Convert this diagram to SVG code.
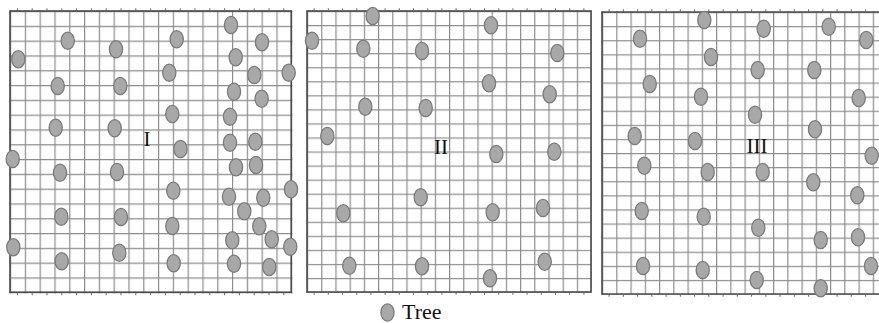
<svg xmlns="http://www.w3.org/2000/svg" xmlns:xlink="http://www.w3.org/1999/xlink" width="879" height="323" viewBox="0 0 879 323">
<style>
.grid{stroke:#8c8c8c;stroke-width:1.2;fill:none}
.border{stroke:#4a4a4a;stroke-width:1.6;fill:none}
.tick{stroke:#666666;stroke-width:2.5;fill:none}
.lbl{font-family:"Liberation Serif","Times New Roman",serif;font-size:21px;fill:#111}
.tree{fill:#a8a8a8;stroke:#7a7a7a;stroke-width:1.3}
</style>
<defs>
<pattern id="g1" patternUnits="userSpaceOnUse" x="10" y="11" width="14.8" height="14.8">
<path class="grid" d="M0.6 0V14.8M0 0.6H14.8"/>
</pattern>
<pattern id="g2" patternUnits="userSpaceOnUse" x="307" y="11" width="14.2" height="14.05">
<path class="grid" d="M0.6 0V14.05M0 0.6H14.2"/>
</pattern>
<pattern id="g3" patternUnits="userSpaceOnUse" x="602" y="12" width="14.25" height="14.1">
<path class="grid" d="M0.6 0V14.1M0 0.6H14.25"/>
</pattern>
<ellipse id="t" class="tree" cx="0" cy="0" rx="6.6" ry="8.6"/>
</defs>
<rect width="879" height="323" fill="#ffffff"/>

<g id="panel-I">
<rect x="9.4" y="10.4" width="283.2" height="283.2" fill="url(#g1)"/>
<rect class="border" x="10" y="11" width="281.2" height="281.2"/>
<line class="tick" x1="10" y1="294" x2="292" y2="294" stroke-dasharray="1 13.8" stroke-dashoffset="-6.9"/>
<line class="tick" x1="10" y1="9.5" x2="292" y2="9.5" stroke-dasharray="1 13.8" stroke-dashoffset="-6.9"/>
<text class="lbl" x="147" y="146" text-anchor="middle">I</text>
<g id="trees-I">
<use href="#t" x="18.3" y="59.3"/><use href="#t" x="67.7" y="40.7"/><use href="#t" x="116" y="49.3"/>
<use href="#t" x="57.7" y="86"/><use href="#t" x="120.3" y="86"/><use href="#t" x="55.7" y="127.7"/>
<use href="#t" x="114.7" y="128.3"/><use href="#t" x="176.7" y="39.3"/><use href="#t" x="169.3" y="72.7"/>
<use href="#t" x="172.3" y="114"/><use href="#t" x="180.5" y="149"/><use href="#t" x="231" y="25"/>
<use href="#t" x="262" y="42.3"/><use href="#t" x="235.7" y="57.3"/><use href="#t" x="254.3" y="75"/>
<use href="#t" x="288.7" y="72.7"/><use href="#t" x="234" y="91.7"/><use href="#t" x="261.7" y="98.7"/>
<use href="#t" x="230" y="116.7"/><use href="#t" x="230" y="142.7"/><use href="#t" x="255.3" y="141.7"/>
<use href="#t" x="12.7" y="159"/><use href="#t" x="60" y="172.7"/><use href="#t" x="117" y="172"/>
<use href="#t" x="173.3" y="190.7"/><use href="#t" x="236" y="167.3"/><use href="#t" x="256" y="165"/>
<use href="#t" x="291" y="189.3"/><use href="#t" x="229" y="196.7"/><use href="#t" x="263.3" y="197.7"/>
<use href="#t" x="244.3" y="211.3"/><use href="#t" x="61.3" y="216.7"/><use href="#t" x="121" y="217"/>
<use href="#t" x="172.3" y="226"/><use href="#t" x="259.3" y="226.3"/><use href="#t" x="13.3" y="247.3"/>
<use href="#t" x="232.3" y="240.3"/><use href="#t" x="271.7" y="239.3"/><use href="#t" x="290.3" y="246.7"/>
<use href="#t" x="119.3" y="252.7"/><use href="#t" x="61.7" y="261.3"/><use href="#t" x="173.7" y="263.3"/>
<use href="#t" x="234" y="263.7"/><use href="#t" x="269.3" y="267"/>
</g>
</g>

<g id="panel-II">
<rect x="306.4" y="10.4" width="285.2" height="282.2" fill="url(#g2)"/>
<rect class="border" x="307" y="11" width="284" height="281"/>
<line class="tick" x1="307" y1="293.5" x2="591" y2="293.5" stroke-dasharray="1 13.2" stroke-dashoffset="-6.6"/>
<line class="tick" x1="307" y1="9.5" x2="591" y2="9.5" stroke-dasharray="1 13.2" stroke-dashoffset="-6.6"/>
<text class="lbl" x="441" y="154" text-anchor="middle">II</text>
<g id="trees-II">
<use href="#t" x="372.7" y="16"/><use href="#t" x="312" y="40.7"/><use href="#t" x="363.3" y="48.7"/>
<use href="#t" x="422" y="51"/><use href="#t" x="491" y="25.3"/><use href="#t" x="557.3" y="53"/>
<use href="#t" x="489" y="83.3"/><use href="#t" x="549.7" y="94.3"/><use href="#t" x="365.3" y="106.7"/>
<use href="#t" x="425.7" y="108"/><use href="#t" x="327.3" y="136"/><use href="#t" x="496.3" y="154"/>
<use href="#t" x="554.3" y="151.7"/><use href="#t" x="420.7" y="197.3"/><use href="#t" x="343.3" y="213.3"/>
<use href="#t" x="492.7" y="212.3"/><use href="#t" x="543" y="208"/><use href="#t" x="349.3" y="265.7"/>
<use href="#t" x="422" y="266.3"/><use href="#t" x="544.7" y="261.7"/><use href="#t" x="490" y="278.3"/>
</g>
</g>

<g id="panel-III">
<rect x="601.4" y="11.4" width="280" height="283.2" fill="url(#g3)"/>
<path class="border" d="M880 12H602V294H880"/>
<line class="tick" x1="602" y1="295.5" x2="879" y2="295.5" stroke-dasharray="1 13.25" stroke-dashoffset="-6.6"/>
<line class="tick" x1="602" y1="10.5" x2="879" y2="10.5" stroke-dasharray="1 13.25" stroke-dashoffset="-6.6"/>
<text class="lbl" x="757" y="153" text-anchor="middle">III</text>
<g id="trees-III">
<use href="#t" x="704.3" y="20"/><use href="#t" x="763.7" y="28.7"/><use href="#t" x="828.7" y="26.7"/>
<use href="#t" x="866.3" y="40"/><use href="#t" x="640" y="38.7"/><use href="#t" x="711" y="57"/>
<use href="#t" x="757.7" y="70"/><use href="#t" x="814.3" y="70"/><use href="#t" x="649.7" y="84"/>
<use href="#t" x="701" y="96.7"/><use href="#t" x="858.7" y="98"/><use href="#t" x="755" y="114.7"/>
<use href="#t" x="815" y="129.3"/><use href="#t" x="634.7" y="136"/><use href="#t" x="695" y="141"/>
<use href="#t" x="871.7" y="155.7"/><use href="#t" x="644.3" y="165.7"/><use href="#t" x="707.7" y="172"/>
<use href="#t" x="762.7" y="172"/><use href="#t" x="813.3" y="182.3"/><use href="#t" x="857.3" y="195.3"/>
<use href="#t" x="641.7" y="211"/><use href="#t" x="703.7" y="216.7"/><use href="#t" x="758.3" y="227.7"/>
<use href="#t" x="820.7" y="240"/><use href="#t" x="858" y="237.3"/><use href="#t" x="643" y="266"/>
<use href="#t" x="702.7" y="270"/><use href="#t" x="756.7" y="280"/><use href="#t" x="871" y="266"/>
<use href="#t" x="820.7" y="288.3"/>
</g>
</g>

<g id="legend">
<use href="#t" x="387.5" y="312.5"/>
<text class="lbl" x="402" y="318.5" style="font-size:22px">Tree</text>
</g>
</svg>
